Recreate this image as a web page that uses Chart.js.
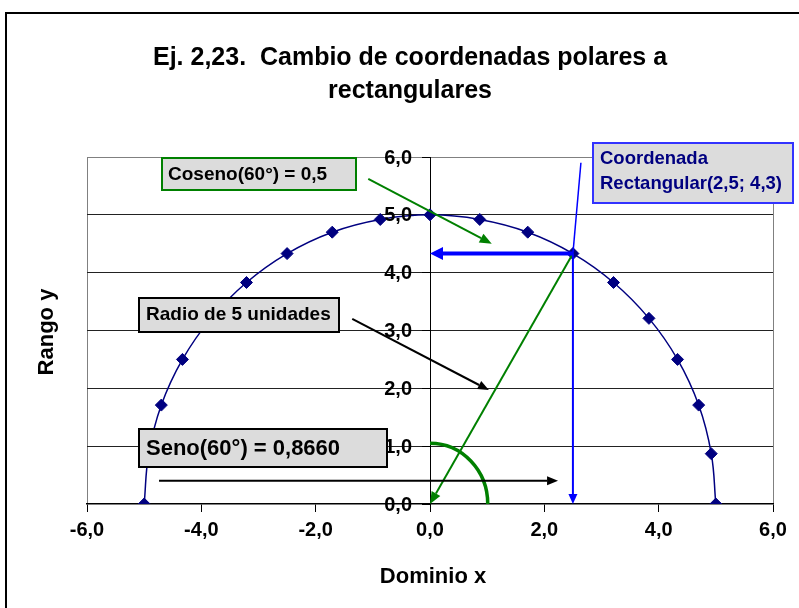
<!DOCTYPE html>
<html>
<head>
<meta charset="utf-8">
<script src="https://cdn.jsdelivr.net/npm/chart.js@4"></script>
<style>
  body { margin: 0; background: #fff; }
  canvas { display: block; }
</style>
</head>
<body>
<canvas id="chart" width="799" height="608"></canvas>
<script>
// semicircle of radius 5, one point every 10 degrees
const xValues = [5.00, 4.92, 4.70, 4.33, 3.83, 3.21, 2.50, 1.71, 0.87, 0.00,
                 -0.87, -1.71, -2.50, -3.21, -3.83, -4.33, -4.70, -4.92, -5.00];
const yValues = [0.00, 0.87, 1.71, 2.50, 3.21, 3.83, 4.33, 4.70, 4.92, 5.00,
                 4.92, 4.70, 4.33, 3.83, 3.21, 2.50, 1.71, 0.87, 0.00];
const xTicks = [-6, -4, -2, 0, 2, 4, 6];
const yTicks = [0, 1, 2, 3, 4, 5, 6];

const titleLines = ['Ej. 2,23.  Cambio de coordenadas polares a', 'rectangulares'];
const xTitle = 'Dominio x';
const yTitle = 'Rango y';

// the marked point and the annotation arrows, in data units
const rectPoint = [2.5, 4.33];
const cosArrow = [[-1.08, 5.62], [1.08, 4.50]];
const radioArrow = [[-1.36, 3.20], [1.03, 1.97]];
const senoArrow = [[-4.74, 0.40], [2.24, 0.40]];
const coordLine = [2.64, 5.90];
const angleArc = [1.01, 1.05];

const FONT = '"Liberation Sans", Arial, sans-serif';
const fmt = v => Number(v).toFixed(1).replace('.', ',');

function arrow(ctx, x1, y1, x2, y2, color, lw, hl, hw) {
  const a = Math.atan2(y2 - y1, x2 - x1);
  const bx = x2 - Math.cos(a) * hl, by = y2 - Math.sin(a) * hl;
  ctx.strokeStyle = color;
  ctx.fillStyle = color;
  ctx.lineWidth = lw;
  ctx.beginPath();
  ctx.moveTo(x1, y1);
  ctx.lineTo(bx, by);
  ctx.stroke();
  ctx.beginPath();
  ctx.moveTo(x2, y2);
  ctx.lineTo(bx + Math.sin(a) * hw / 2, by - Math.cos(a) * hw / 2);
  ctx.lineTo(bx - Math.sin(a) * hw / 2, by + Math.cos(a) * hw / 2);
  ctx.closePath();
  ctx.fill();
}

function box(ctx, x, y, w, h, border, lines, color, size) {
  ctx.fillStyle = '#dcdcdc';
  ctx.fillRect(x, y, w, h);
  ctx.strokeStyle = border;
  ctx.lineWidth = 2;
  ctx.strokeRect(x, y, w, h);
  ctx.fillStyle = color;
  ctx.font = 'bold ' + size + 'px ' + FONT;
  ctx.textAlign = 'left';
  ctx.textBaseline = 'alphabetic';
  lines.forEach(l => ctx.fillText(l[0], l[1], l[2]));
}

const decor = {
  id: 'decor',
  beforeDraw(chart) {
    const ctx = chart.ctx;
    const a = chart.chartArea;
    ctx.save();
    ctx.strokeStyle = '#000';
    ctx.lineWidth = 2;
    ctx.strokeRect(6, 13, 900, 700);
    ctx.strokeStyle = '#808080';
    ctx.lineWidth = 1;
    ctx.beginPath();
    ctx.moveTo(Math.round(a.left) + 0.5, a.bottom);
    ctx.lineTo(Math.round(a.left) + 0.5, Math.round(a.top) + 0.5);
    ctx.lineTo(Math.round(a.right) + 0.5, Math.round(a.top) + 0.5);
    ctx.lineTo(Math.round(a.right) + 0.5, a.bottom);
    ctx.stroke();
    ctx.restore();
  },
  afterDraw(chart) {
    const ctx = chart.ctx;
    const sx = chart.scales.x, sy = chart.scales.y;
    const px = v => sx.getPixelForValue(v), py = v => sy.getPixelForValue(v);
    ctx.save();

    // titles
    ctx.fillStyle = '#000';
    ctx.textAlign = 'center';
    ctx.textBaseline = 'alphabetic';
    ctx.font = 'bold 25px ' + FONT;
    ctx.fillText(titleLines[0], 410, 65);
    ctx.fillText(titleLines[1], 410, 98);
    ctx.font = 'bold 22px ' + FONT;
    ctx.fillText(xTitle, 433, 583);
    ctx.save();
    ctx.translate(53, 332);
    ctx.rotate(-Math.PI / 2);
    ctx.fillText(yTitle, 0, 0);
    ctx.restore();

    const ox = px(0), oy = py(0);

    // y tick labels sit left of the y axis, which crosses at x = 0
    ctx.font = 'bold 20px ' + FONT;
    ctx.textAlign = 'right';
    ctx.textBaseline = 'middle';
    yTicks.forEach(v => ctx.fillText(fmt(v), ox - 18, py(v) + 1));

    const rx = px(rectPoint[0]), ry = py(rectPoint[1]);

    // angle arc
    ctx.strokeStyle = '#008000';
    ctx.lineWidth = 3.5;
    ctx.beginPath();
    ctx.ellipse(ox, oy, px(angleArc[0]) - ox, oy - py(angleArc[1]), 0, -Math.PI / 2, 0);
    ctx.stroke();

    // radius arrow to origin
    arrow(ctx, rx, ry, ox, oy, '#008000', 2, 12, 10);
    // cosine arrow
    arrow(ctx, px(cosArrow[0][0]), py(cosArrow[0][1]), px(cosArrow[1][0]), py(cosArrow[1][1]), '#008000', 2, 12, 10);
    // projections
    arrow(ctx, rx, ry, ox, ry, '#0000ff', 4, 13, 13);
    arrow(ctx, rx, ry, rx, oy, '#0000ff', 2, 10, 9);
    ctx.strokeStyle = '#0000ff';
    ctx.lineWidth = 1.5;
    ctx.beginPath();
    ctx.moveTo(px(coordLine[0]), py(coordLine[1]));
    ctx.lineTo(rx, ry);
    ctx.stroke();
    // black arrows
    arrow(ctx, px(radioArrow[0][0]), py(radioArrow[0][1]), px(radioArrow[1][0]), py(radioArrow[1][1]), '#000', 2, 11, 9);
    arrow(ctx, px(senoArrow[0][0]), py(senoArrow[0][1]), px(senoArrow[1][0]), py(senoArrow[1][1]), '#000', 2, 11, 9);

    // text boxes
    box(ctx, 162, 158, 194, 32, '#008000', [['Coseno(60°) = 0,5', 168, 180]], '#000', 19);
    box(ctx, 593, 143, 200, 60, '#3333ff', [['Coordenada', 600, 164], ['Rectangular(2,5; 4,3)', 600, 189]], '#000080', 18.5);
    box(ctx, 139, 298, 200, 34, '#000', [['Radio de 5 unidades', 146, 320]], '#000', 19);
    box(ctx, 139, 429, 248, 38, '#000', [['Seno(60°) = 0,8660', 146, 455]], '#000', 22);

    ctx.restore();
  }
};

const points = xValues.map((x, i) => ({ x: x, y: yValues[i] }));

new Chart(document.getElementById('chart'), {
  type: 'scatter',
  data: {
    datasets: [{
      data: points,
      showLine: true,
      tension: 0.4,
      borderColor: '#000080',
      borderWidth: 1.5,
      backgroundColor: '#000080',
      pointStyle: 'rectRot',
      pointRadius: 6,
      pointBorderWidth: 1,
      pointBorderColor: '#000080'
    }]
  },
  options: {
    responsive: false,
    animation: false,
    events: [],
    layout: { padding: { left: 87, right: 26, top: 157, bottom: 54 } },
    plugins: { legend: { display: false }, tooltip: { enabled: false } },
    scales: {
      x: {
        type: 'linear',
        min: -6, max: 6,
        afterBuildTicks: s => { s.ticks = xTicks.map(v => ({ value: v })); },
        afterFit: s => { s.height = 50; },
        border: { color: '#000', width: 1.5 },
        grid: { drawOnChartArea: false, color: '#000', tickLength: 8 },
        ticks: {
          callback: fmt,
          color: '#000',
          padding: 6,
          maxRotation: 0,
          font: { family: FONT, size: 20, weight: 'bold' }
        }
      },
      y: {
        type: 'linear',
        position: { x: 0 },
        min: 0, max: 6,
        afterBuildTicks: s => { s.ticks = yTicks.map(v => ({ value: v })); },
        border: { color: '#000', width: 1 },
        grid: {
          color: c => (c.tick && (c.tick.value === 6) ? '#808080' : c.tick && c.tick.value === 0 ? 'rgba(0,0,0,0)' : '#222'),
          tickColor: '#000',
          tickLength: 8
        },
        ticks: { display: false }
      }
    }
  },
  plugins: [decor]
});
</script>
</body>
</html>
